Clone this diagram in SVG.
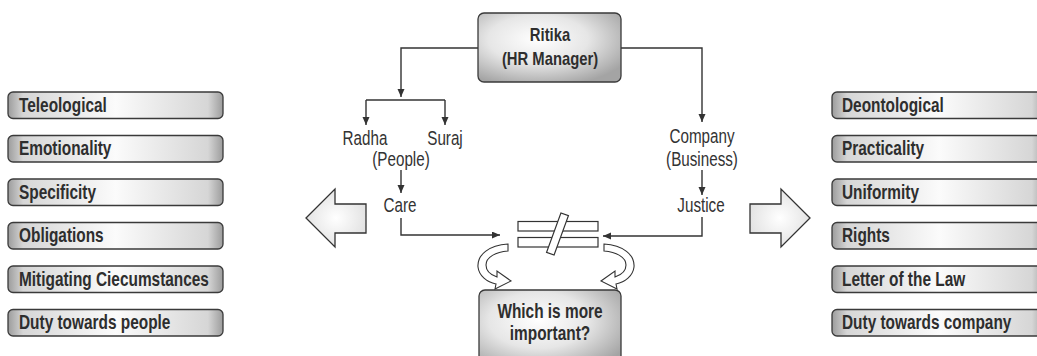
<svg xmlns="http://www.w3.org/2000/svg" width="1037" height="356" viewBox="0 0 1037 356">
<style>
.box{stroke:#3a3a3a;stroke-width:1.3;fill:url(#boxGrad)}
.btxt{font-family:"Liberation Sans",Arial,sans-serif;font-weight:bold;font-size:19.5px;fill:#2e2e2e}
.lbl{font-family:"Liberation Sans",Arial,sans-serif;font-size:19.5px;fill:#333}
.mid{text-anchor:middle}
.line{stroke:#333;stroke-width:1.4;fill:none}
.big{fill:url(#arrowGrad);stroke:#333;stroke-width:1.3}
.hollow{fill:#fff;stroke:#333;stroke-width:1.1}
</style>
<defs>
<linearGradient id="boxGrad" x1="0" y1="0" x2="1" y2="0">
<stop offset="0" stop-color="#9c9c9c"/>
<stop offset="0.07" stop-color="#d6d6d6"/>
<stop offset="0.5" stop-color="#fbfbfb"/>
<stop offset="0.93" stop-color="#d6d6d6"/>
<stop offset="1" stop-color="#9c9c9c"/>
</linearGradient>
<radialGradient id="bigGrad" cx="0.42" cy="0.38" r="0.7">
<stop offset="0" stop-color="#ffffff"/>
<stop offset="0.5" stop-color="#e6e6e6"/>
<stop offset="1" stop-color="#a4a4a4"/>
</radialGradient>
<radialGradient id="arrowGrad" cx="0.5" cy="0.5" r="0.6">
<stop offset="0" stop-color="#ffffff"/>
<stop offset="1" stop-color="#dedede"/>
</radialGradient>
<marker id="ah" markerUnits="userSpaceOnUse" markerWidth="9" markerHeight="8" refX="8" refY="3.5" orient="auto">
<path d="M0,0 L8,3.5 L0,7 z" fill="#333"/>
</marker>
</defs>

<g id="connectors">
<path class="line" d="M478,48 H401 V97" marker-end="url(#ah)"/>
<path class="line" d="M366,100 H445"/>
<path class="line" d="M366,100 V125" marker-end="url(#ah)"/>
<path class="line" d="M445,100 V125" marker-end="url(#ah)"/>
<path class="line" d="M621,48 H702 V122" marker-end="url(#ah)"/>
<path class="line" d="M401,170 V193" marker-end="url(#ah)"/>
<path class="line" d="M702,170 V195" marker-end="url(#ah)"/>
<path class="line" d="M401,218 V235 H500" marker-end="url(#ah)"/>
<path class="line" d="M702,217 V236 H603" marker-end="url(#ah)"/>
<path id="curl-left" class="hollow" d="M508,244 C489,245 477,255 478,267 C479,276 487,282 496,284 L495,289 L511,281 L497,271 L497,277 C491,275 486,271 486,265 C486,257 496,252 508,251 Z"/>
<path id="curl-right" class="hollow" transform="translate(1112,0) scale(-1,1)" d="M508,244 C489,245 477,255 478,267 C479,276 487,282 496,284 L495,289 L511,281 L497,271 L497,277 C491,275 486,271 486,265 C486,257 496,252 508,251 Z"/>
</g>

<g id="ritika">
<rect x="478" y="13" width="143" height="69" rx="6" fill="url(#bigGrad)" stroke="#3a3a3a" stroke-width="1.3"/>
<text class="btxt mid" transform="matrix(0.8 0 0 1 550 0)" x="0" y="41" style="font-size:18.5px">Ritika</text>
<text class="btxt mid" transform="matrix(0.8 0 0 1 550 0)" x="0" y="65" style="font-size:18.5px">(HR Manager)</text>
</g>

<g id="radha"><text class="lbl mid" transform="matrix(0.78 0 0 1 365 0)" x="0" y="145">Radha</text></g>
<g id="suraj"><text class="lbl mid" transform="matrix(0.78 0 0 1 445 0)" x="0" y="145">Suraj</text></g>
<g id="people"><text class="lbl mid" transform="matrix(0.78 0 0 1 401 0)" x="0" y="166">(People)</text></g>
<g id="care"><text class="lbl mid" transform="matrix(0.78 0 0 1 400 0)" x="0" y="212">Care</text></g>
<g id="company">
<text class="lbl mid" transform="matrix(0.78 0 0 1 702 0)" x="0" y="143">Company</text>
<text class="lbl mid" transform="matrix(0.78 0 0 1 702 0)" x="0" y="166">(Business)</text>
</g>
<g id="justice"><text class="lbl mid" transform="matrix(0.78 0 0 1 701 0)" x="0" y="212">Justice</text></g>

<g id="not-equal">
<rect x="518" y="221.5" width="80" height="9.5" fill="#fff" stroke="#333" stroke-width="1.2"/>
<rect x="518" y="237.5" width="80" height="9.5" fill="#fff" stroke="#333" stroke-width="1.2"/>
<rect x="553.5" y="213" width="8" height="42" fill="#fff" stroke="#333" stroke-width="1.2" transform="rotate(20 557.5 234)"/>
</g>

<g id="which">
<rect x="479" y="290" width="142" height="80" rx="6" fill="url(#bigGrad)" stroke="#3a3a3a" stroke-width="1.3"/>
<text class="btxt mid" transform="matrix(0.79 0 0 1 550 0)" x="0" y="318">Which is more</text>
<text class="btxt mid" transform="matrix(0.79 0 0 1 550 0)" x="0" y="340">important?</text>
</g>

<g id="arrow-left"><path class="big" d="M306,218 L335,189 L335,204 L366,204 L366,233 L335,233 L335,247 Z"/></g>
<g id="arrow-right"><path class="big" d="M810,218 L781,189 L781,204 L750,204 L750,233 L781,233 L781,247 Z"/></g>

<g id="teleological"><rect class="box" x="8" y="92" width="215" height="26.5" rx="5"/><text class="btxt" transform="matrix(0.79 0 0 1 19 0)" x="0" y="112">Teleological</text></g>
<g id="emotionality"><rect class="box" x="8" y="135.5" width="215" height="26.5" rx="5"/><text class="btxt" transform="matrix(0.79 0 0 1 19 0)" x="0" y="155.5">Emotionality</text></g>
<g id="specificity"><rect class="box" x="8" y="179" width="215" height="26.5" rx="5"/><text class="btxt" transform="matrix(0.79 0 0 1 19 0)" x="0" y="199">Specificity</text></g>
<g id="obligations"><rect class="box" x="8" y="222.5" width="215" height="26.5" rx="5"/><text class="btxt" transform="matrix(0.79 0 0 1 19 0)" x="0" y="242.5">Obligations</text></g>
<g id="mitigating"><rect class="box" x="8" y="266" width="215" height="26.5" rx="5"/><text class="btxt" transform="matrix(0.79 0 0 1 19 0)" x="0" y="286">Mitigating Ciecumstances</text></g>
<g id="duty-people"><rect class="box" x="8" y="309.5" width="215" height="26.5" rx="5"/><text class="btxt" transform="matrix(0.79 0 0 1 19 0)" x="0" y="329.5">Duty towards people</text></g>

<g id="deontological"><rect class="box" x="832" y="92" width="215" height="26.5" rx="5"/><text class="btxt" transform="matrix(0.79 0 0 1 842 0)" x="0" y="112">Deontological</text></g>
<g id="practicality"><rect class="box" x="832" y="135.5" width="215" height="26.5" rx="5"/><text class="btxt" transform="matrix(0.79 0 0 1 842 0)" x="0" y="155.5">Practicality</text></g>
<g id="uniformity"><rect class="box" x="832" y="179" width="215" height="26.5" rx="5"/><text class="btxt" transform="matrix(0.79 0 0 1 842 0)" x="0" y="199">Uniformity</text></g>
<g id="rights"><rect class="box" x="832" y="222.5" width="215" height="26.5" rx="5"/><text class="btxt" transform="matrix(0.79 0 0 1 842 0)" x="0" y="242.5">Rights</text></g>
<g id="letter-law"><rect class="box" x="832" y="266" width="215" height="26.5" rx="5"/><text class="btxt" transform="matrix(0.79 0 0 1 842 0)" x="0" y="286">Letter of the Law</text></g>
<g id="duty-company"><rect class="box" x="832" y="309.5" width="215" height="26.5" rx="5"/><text class="btxt" transform="matrix(0.79 0 0 1 842 0)" x="0" y="329.5">Duty towards company</text></g>
</svg>
